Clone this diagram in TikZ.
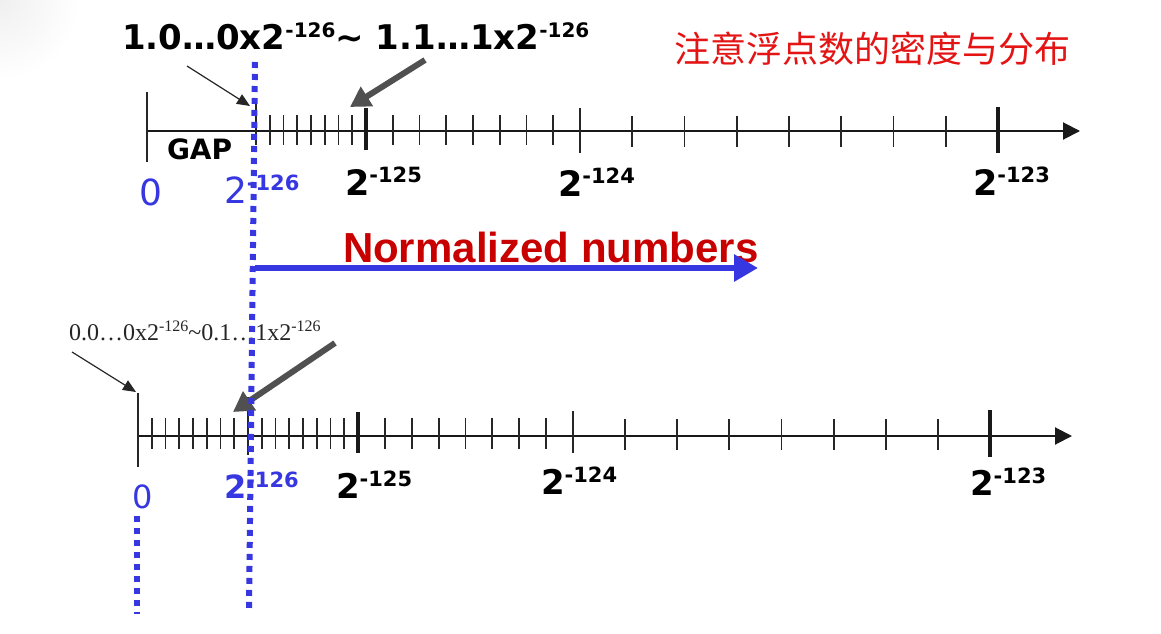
\documentclass[tikz,border=0pt]{standalone}
\usepackage{fontspec}
\setmainfont{DejaVu Sans}
\newfontfamily\cjk{Noto Sans CJK SC}
\newfontfamily\arialf{Liberation Sans}
\newfontfamily\timesf{Liberation Serif}
\usetikzlibrary{arrows.meta}
\definecolor{lblue}{RGB}{55,55,225}
\definecolor{nred}{RGB}{200,0,0}
\definecolor{cred}{RGB}{228,20,20}
\definecolor{garrow}{RGB}{80,80,80}
\newcommand\fs[1]{\fontsize{#1}{#1}\selectfont}
\tikzset{
  lab/.style={anchor=base west, inner sep=0pt, outer sep=0pt},
  axisline/.style={line width=2pt, black!90, -{Triangle[length=17pt,width=17pt]}},
  tk/.style={line width=1.9pt, black!85},
  btk/.style={line width=3.5pt, black!90},
  grayarrow/.style={line width=6pt, garrow, -{Triangle[length=20pt,width=22pt]}},
  thinarrow/.style={line width=1.2pt, black!85, -{Triangle[length=13pt,width=11pt]}},
  bluearrow/.style={line width=6pt, lblue, -{Triangle[length=24pt,width=26pt]}},
  bluedots/.style={line width=6pt, lblue, dash pattern=on 6pt off 6pt}
}
\begin{document}
\begin{tikzpicture}[x=1pt,y=-1pt]
\useasboundingbox (0,0) rectangle (1161,634);
\fill[white] (0,0) rectangle (1161,634);
\begin{scope}
\clip (0,0) rectangle (1161,634);
\shade[inner color=black!6, outer color=white] (0,0) circle (80);
\end{scope}

% ---------- top axis ----------
\coordinate (A0) at (147,131);
\coordinate (A1) at (1080,131);
\draw[axisline] (A0) -- (A1);
\draw[tk] (147,92) -- (147,162);
\draw[tk, line width=2.5pt] (256,103) -- (256,145);
\foreach \k in {1,...,7} \draw[tk] ({256+13.75*\k},115) -- ++(0,30);
\draw[btk] (366,108) -- (366,150);
\foreach \k in {1,...,7} \draw[tk] ({366+26.75*\k},115) -- ++(0,30);
\draw[tk] (580,108) -- (580,153);
\foreach \k in {1,...,7} \draw[tk] ({580+52.25*\k},116) -- ++(0,31);
\draw[btk] (998,107) -- (998,153);

% ---------- bottom axis ----------
\coordinate (B0) at (138,436);
\coordinate (B1) at (1072,436);
\draw[axisline] (B0) -- (B1);
\draw[tk] (138,393) -- (138,467);
\foreach \k in {1,...,7} \draw[tk] ({138+13.75*\k},418) -- ++(0,31);
\draw[tk, line width=2.5pt] (248,397) -- (248,455);
\foreach \k in {1,...,7} \draw[tk] ({248+13.75*\k},418) -- ++(0,31);
\draw[btk] (358,412) -- (358,453);
\foreach \k in {1,...,7} \draw[tk] ({358+26.875*\k},418) -- ++(0,31);
\draw[tk] (573,411) -- (573,453);
\foreach \k in {1,...,7} \draw[tk] ({573+52.125*\k},419) -- ++(0,31);
\draw[btk] (990,410) -- (990,457);

% ---------- texts ----------
\node[lab] (title) at (122,50) {\fs{34}\bfseries 1.0…0x2\raisebox{12.5pt}{\fs{20}-126}\textasciitilde{} 1.1…1x2\raisebox{12.5pt}{\fs{20}-126}};
\node[lab, text=cred] (cn) at (674,63) {\cjk\fs{36}注意浮点数的密度与分布};
\node[lab] (gap) at (167,159) {\fs{28}\bfseries GAP};

\node[lab, text=lblue] (t0) at (139,205) {\fs{36}0};
\node[lab, text=lblue] (t126) at (224,203) {\fs{36}2\raisebox{13pt}{\fs{21}\bfseries -126}};
\node[lab] (t125) at (345,195) {\fs{35}\bfseries 2\raisebox{12.5pt}{\fs{21}-125}};
\node[lab] (t124) at (558,196) {\fs{35}\bfseries 2\raisebox{12.5pt}{\fs{21}-124}};
\node[lab] (t123) at (973,195) {\fs{35}\bfseries 2\raisebox{12.5pt}{\fs{21}-123}};

\node[lab, text=nred] (norm) at (343,262) {\arialf\bfseries\fs{42}Normalized numbers};

\node[lab, text=black!85] (sub) at (69,340) {\timesf\fs{24}0.0…0x2\raisebox{8.5pt}{\fs{16}-126}\textasciitilde{}0.1…1x2\raisebox{8.5pt}{\fs{16}-126}};

\node[lab, text=lblue] (b0) at (132,508) {\fs{32}0};
\node[lab, text=lblue] (b126) at (224,498) {\fs{32}\bfseries 2\raisebox{10.5pt}{\fs{21}-126}};
\node[lab] (b125) at (336,498) {\fs{34}\bfseries 2\raisebox{11.5pt}{\fs{21}-125}};
\node[lab] (b124) at (541,494) {\fs{34}\bfseries 2\raisebox{11.5pt}{\fs{21}-124}};
\node[lab] (b123) at (970,495) {\fs{34}\bfseries 2\raisebox{11.5pt}{\fs{21}-123}};

% ---------- arrows ----------
\coordinate (s1) at (187,66);  \coordinate (e1) at (250,106);
\draw[thinarrow] (s1) -- (e1);
\coordinate (g1s) at (425,60); \coordinate (g1e) at (350,107);
\draw[grayarrow] (g1s) -- (g1e);
\coordinate (s2) at (72,352);  \coordinate (e2) at (136,392);
\draw[thinarrow] (s2) -- (e2);
\coordinate (g2s) at (335,343); \coordinate (g2e) at (233,412);
\draw[grayarrow] (g2s) -- (g2e);

\coordinate (n0) at (255,268); \coordinate (n1) at (758,268);
\draw[bluearrow] (n0) -- (n1);

% ---------- dotted guide lines ----------
\coordinate (d1a) at (255,62); \coordinate (d1b) at (249,612);
\draw[bluedots] (d1a) -- (d1b);
\coordinate (d2a) at (137,516); \coordinate (d2b) at (137,614);
\draw[bluedots] (d2a) -- (d2b);
\end{tikzpicture}
\end{document}
